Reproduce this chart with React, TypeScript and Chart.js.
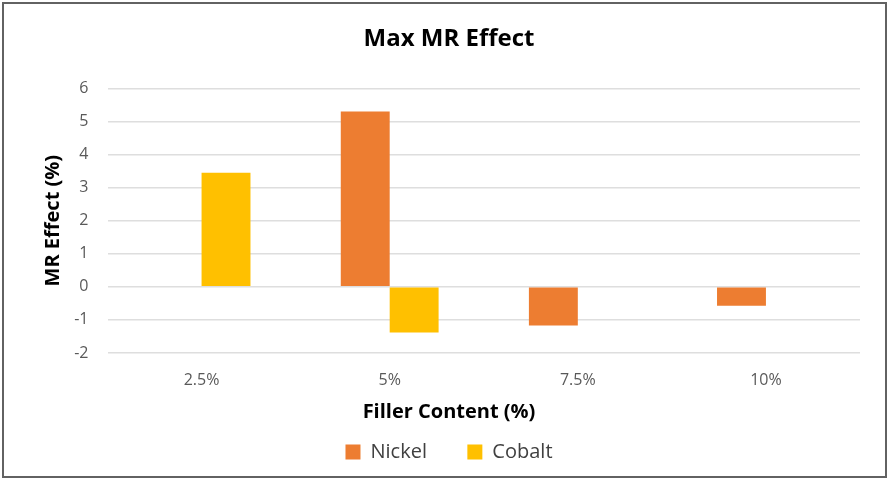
import React, { useEffect, useRef } from 'react';
import { Chart, registerables } from 'chart.js';

Chart.register(...registerables);

// values
const fillerLabels = ['2.5%', '5%', '7.5%', '10%'];
const nickelEffect = [null, 5.3, -1.17, -0.57];
const cobaltEffect = [3.45, -1.38, null, null];
const yTickMin = -2;
const yTickMax = 6;
const yTickStep = 1;

const FAMILY = "'Open Sans', 'Noto Sans', sans-serif";

export default function App() {
    const canvasRef = useRef<HTMLCanvasElement>(null);

    useEffect(() => {
        const chart = new Chart(canvasRef.current, {
            type: 'bar',
            data: {
                labels: fillerLabels,
                datasets: [
                    {
                        label: 'Nickel',
                        data: nickelEffect,
                        backgroundColor: '#ED7D31',
                        categoryPercentage: 0.52,
                        barPercentage: 1
                    },
                    {
                        label: 'Cobalt',
                        data: cobaltEffect,
                        backgroundColor: '#FFC000',
                        categoryPercentage: 0.52,
                        barPercentage: 1
                    }
                ]
            },
            options: {
                responsive: true,
                maintainAspectRatio: false,
                animation: false,
                layout: {
                    padding: { left: 12, right: 4, top: 0, bottom: 12 }
                },
                scales: {
                    x: {
                        grid: { display: false, drawTicks: false },
                        border: { display: false },
                        ticks: {
                            font: { family: FAMILY, size: 16 },
                            color: '#595959',
                            padding: 18
                        },
                        afterFit: (s) => { s.height = 40; }
                    },
                    y: {
                        min: yTickMin,
                        max: yTickMax,
                        ticks: {
                            stepSize: yTickStep,
                            font: { family: FAMILY, size: 16 },
                            color: '#595959',
                            padding: 19
                        },
                        grid: { color: '#dedede', lineWidth: 1.5, drawTicks: false },
                        border: { display: false },
                        title: {
                            display: true,
                            text: 'MR Effect (%)',
                            font: { family: FAMILY, size: 20, weight: 'bold' },
                            color: '#000',
                            padding: { top: 29, bottom: 0 }
                        },
                        afterFit: (s) => { s.width = 95.5; }
                    },
                    // empty axis that only keeps space on the right
                    yRight: {
                        position: 'right',
                        grid: { display: false, drawTicks: false },
                        border: { display: false },
                        ticks: { display: false },
                        afterFit: (s) => { s.width = 26; }
                    }
                },
                plugins: {
                    title: {
                        display: true,
                        text: 'Max MR Effect',
                        font: { family: FAMILY, size: 24, weight: 'bold' },
                        color: '#000',
                        padding: { top: 24.6, bottom: 34.9 }
                    },
                    subtitle: {
                        display: true,
                        position: 'bottom',
                        weight: 500,
                        text: 'Filler Content (%)',
                        font: { family: FAMILY, size: 20, weight: 'bold' },
                        color: '#000',
                        padding: { top: 7.5, bottom: -22.9 }
                    },
                    legend: {
                        position: 'bottom',
                        labels: {
                            boxWidth: 15,
                            boxHeight: 15,
                            padding: 40.4,
                            font: { family: FAMILY, size: 20 },
                            color: '#404040'
                        }
                    },
                    tooltip: { enabled: false }
                }
            }
        });

        return () => {
            chart.destroy();
        };
    }, []);

    return (
        <div style={{ position: 'absolute', left: 0, top: 0, width: 890, height: 484, background: '#fff' }}>
            <canvas ref={canvasRef} />
            <div
                style={{
                    position: 'absolute',
                    left: 2,
                    top: 2,
                    width: 881,
                    height: 472,
                    border: '2px solid #626262',
                    pointerEvents: 'none'
                }}
            />
        </div>
    );
}
